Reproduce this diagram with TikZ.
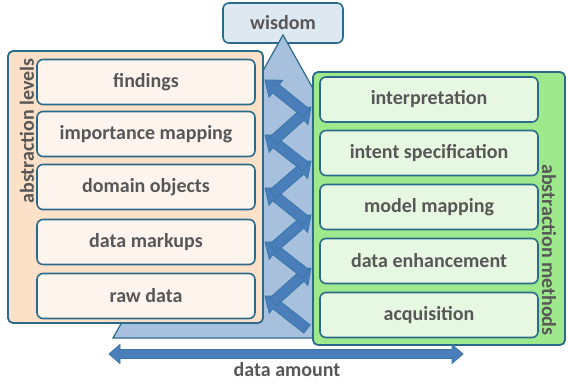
\documentclass[tikz,border=0pt]{standalone}
\usepackage{fontspec}
\setmainfont{Carlito}
\usetikzlibrary{calc}
\definecolor{tealb}{HTML}{2B6A8A}
\definecolor{txtgray}{HTML}{575757}
\definecolor{orangeout}{HTML}{FCE0C7}
\definecolor{lvlfill}{HTML}{FDF4EE}
\definecolor{greenout}{HTML}{9EE98C}
\definecolor{methfill}{HTML}{E7F8E2}
\definecolor{wisfill}{HTML}{DEE8F0}
\definecolor{trifill}{HTML}{A7C0DE}
\definecolor{arrfill}{HTML}{4A7EBB}
\definecolor{arrline}{HTML}{3A78A6}
\tikzset{
  lbl/.style={font=\fontsize{20}{23}\selectfont\bfseries, text=txtgray},
  levelbox/.style={lbl, draw=tealb, line width=1.6pt, rounded corners=6pt, fill=lvlfill,
    minimum width=218pt, minimum height=45pt, inner sep=0pt},
  methodbox/.style={levelbox, fill=methfill},
  outerbox/.style={draw=tealb, line width=1.8pt, rounded corners=5pt, inner sep=0pt},
  tri/.style={draw=tealb, line width=1.2pt, fill=trifill, line join=miter},
  blk/.style={fill=arrfill, draw=arrline, line width=0.8pt, line join=miter},
}
\newcommand{\blkarrow}[2]{%
  \coordinate (ba) at #1; \coordinate (bb) at #2;
  \coordinate (bh) at ($(bb)!14pt!(ba)$);
  \draw[blk] ($(ba)!5.2pt!90:(bb)$) -- ($(bh)!5.2pt!90:(bb)$) -- ($(bh)!11pt!90:(bb)$)
    -- (bb) -- ($(bh)!11pt!-90:(bb)$) -- ($(bh)!5.2pt!-90:(bb)$) -- ($(ba)!5.2pt!-90:(bb)$) -- cycle;
}
\begin{document}
\begin{tikzpicture}[x=1pt,y=-1pt]
\useasboundingbox (0,0) rectangle (568,385);
% wisdom
\node[outerbox, lbl, line width=1.6pt, rounded corners=6pt, fill=wisfill, minimum width=120pt, minimum height=40pt] (wis) at (283,23) {wisdom};
% pyramid
\coordinate (tb1) at (113,338);
\coordinate (tt) at (283,35);
\coordinate (tb2) at (453,338);
\draw[tri] (tb1) -- (tt) -- (tb2) -- cycle;
% outer boxes
\node[outerbox, fill=orangeout, minimum width=255pt, minimum height=272pt] (lev) at (135.5,187) {};
\node[outerbox, fill=greenout, minimum width=252pt, minimum height=273pt] (meth) at (439,208.5) {};
\node[lbl, rotate=90] (levlbl) at (27,131) {abstraction levels};
\node[lbl, rotate=-90] (methlbl) at (549,250) {abstraction methods};
% level boxes
\node[levelbox] (l5) at (146,82) {findings};
\node[levelbox] (l4) at (146,134) {importance mapping};
\node[levelbox] (l3) at (146,187) {domain objects};
\node[levelbox] (l2) at (146,242) {data markups};
\node[levelbox] (l1) at (146,296) {raw data};
% method boxes
\node[methodbox] (m5) at (429,99.5) {interpretation};
\node[methodbox] (m4) at (429,153) {intent specification};
\node[methodbox] (m3) at (429,207) {model mapping};
\node[methodbox] (m2) at (429,261) {data enhancement};
\node[methodbox] (m1) at (429,315) {acquisition};
% zigzag
\coordinate (R0) at (307,329);
\coordinate (L1) at (265,296);
\coordinate (R1) at (311,268);
\coordinate (L2) at (265,242);
\coordinate (R2) at (311,215);
\coordinate (L3) at (265,188);
\coordinate (R3) at (311,161);
\coordinate (L4) at (265,135);
\coordinate (R4) at (311,107);
\coordinate (L5) at (265,80);
\blkarrow{(R0)}{(L1)}
\blkarrow{($(L1)+(8,6)$)}{(R1)}
\blkarrow{($(R1)+(-5,6)$)}{(L2)}
\blkarrow{($(L2)+(8,6)$)}{(R2)}
\blkarrow{($(R2)+(-5,6)$)}{(L3)}
\blkarrow{($(L3)+(8,6)$)}{(R3)}
\blkarrow{($(R3)+(-5,6)$)}{(L4)}
\blkarrow{($(L4)+(8,6)$)}{(R4)}
\blkarrow{($(R4)+(-5,6)$)}{(L5)}
% data amount
\coordinate (dl) at (109,354);
\coordinate (dr) at (463,354);
\draw[blk] (dl) -- ++(11,-9.5) -- ++(0,5) -- ($(dr)+(-11,-4.5)$) -- ++(0,-5) -- (dr)
  -- ++(-11,9.5) -- ++(0,-5) -- ($(dl)+(11,4.5)$) -- ++(0,5) -- cycle;
\node[lbl] (da) at (287,370) {data amount};
\end{tikzpicture}
\end{document}
